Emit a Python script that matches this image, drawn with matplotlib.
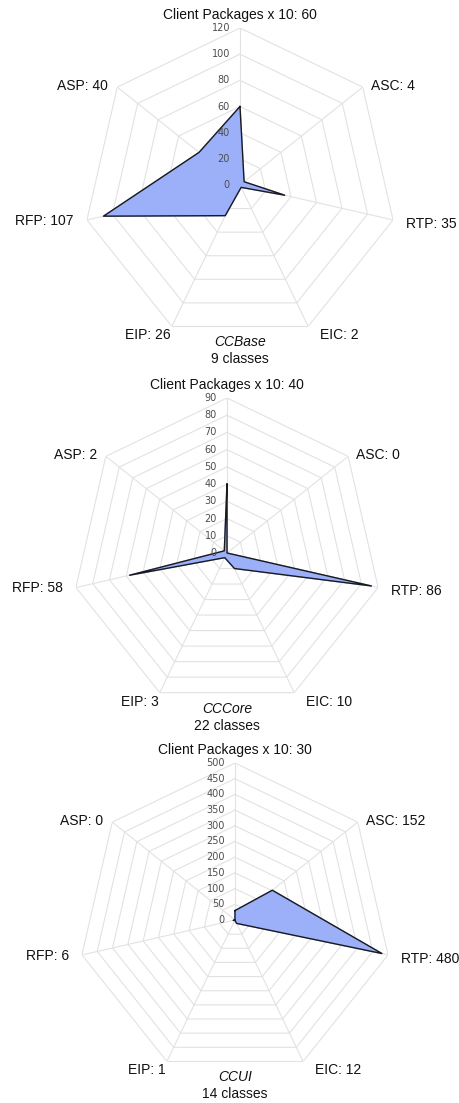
#!/usr/bin/env python3
"""Three stacked radar charts of class metrics (CCBase, CCCore, CCUI)."""
import numpy as np
import matplotlib
matplotlib.use("Agg")
import matplotlib.pyplot as plt

AXES = ["Client Packages x 10", "ASC", "RTP", "EIC", "EIP", "RFP", "ASP"]
NAMES = ["CCBase", "CCCore", "CCUI"]
CLASSES = [9, 22, 14]
CCBASE = [60, 4, 35, 2, 26, 107, 40]
CCCORE = [40, 0, 86, 10, 3, 58, 2]
CCUI = [30, 152, 480, 12, 1, 6, 0]
RMAX = [120, 90, 500]
RSTEP = [20, 10, 50]

W, H = 460, 1103
CENTERS = [(240, 185), (227, 553), (235, 920)]
RADII = [157, 155, 157]

FILL = "#9bb0f9"
GRID = "#e2e2e2"
LABEL_FONT = ["Liberation Sans", "DejaVu Sans"]

# (dx, dy) in pixels, ha, va for each spoke label
LABEL_POS = [
    ((0, 6), "center", "bottom"),
    ((8, 1), "left", "center"),
    ((13, -4), "left", "center"),
    ((12, -2), "left", "top"),
    ((-1, -2), "right", "top"),
    ((-13, -1), "right", "center"),
    ((-9, 1), "right", "center"),
]


def px2pt(v):
    return v * 0.72


def radar(fig, center, radius, values, rmax, step, name, nclass):
    cx, cy = center
    ax = fig.add_axes([(cx - radius) / W, 1 - (cy + radius) / H,
                       2 * radius / W, 2 * radius / H], projection="polar")
    ax.set_theta_zero_location("N")
    ax.set_theta_direction(-1)
    ax.set_ylim(0, rmax)
    ax.grid(False)
    ax.set_xticks([])
    ax.set_yticks([])
    ax.spines["polar"].set_visible(False)
    ax.patch.set_visible(False)

    n = len(AXES)
    theta = np.arange(n) * 2 * np.pi / n
    closed = np.append(theta, theta[0])

    ticks = np.arange(0, rmax + step, step)
    for r in ticks[1:]:
        ax.plot(closed, [r] * (n + 1), color=GRID, lw=0.8, zorder=1)
    for t in theta:
        ax.plot([t, t], [0, rmax], color=GRID, lw=0.8, zorder=1)

    vals = np.append(values, values[0])
    ax.fill(closed, vals, color=FILL, zorder=2)
    ax.plot(closed, vals, color="#1a1a1a", lw=1.0, zorder=3)

    for r in ticks:
        ax.annotate(str(int(r)), xy=(0, r), xytext=(px2pt(-10), 0),
                    textcoords="offset points", ha="right", va="center",
                    fontsize=7.0, color="#4d4d4d", family="DejaVu Sans",
                    zorder=4)

    for t, lab, v, ((dx, dy), ha, va) in zip(theta, AXES, values, LABEL_POS):
        ax.annotate(f"{lab}: {v}", xy=(t, rmax),
                    xytext=(px2pt(dx), px2pt(dy)), textcoords="offset points",
                    ha=ha, va=va, fontsize=10, color="#111111",
                    family=LABEL_FONT, annotation_clip=False)

    bottom = cy + radius * np.cos(np.pi / n)
    fig.text(cx / W, 1 - (bottom + 16) / H, name, ha="center", va="center",
             fontsize=10, style="italic", family=LABEL_FONT, color="#111111")
    fig.text(cx / W, 1 - (bottom + 33) / H, f"{nclass} classes", ha="center",
             va="center", fontsize=10, family=LABEL_FONT, color="#111111")


def main():
    fig = plt.figure(figsize=(W / 100, H / 100), dpi=100)
    fig.patch.set_facecolor("white")
    data = [CCBASE, CCCORE, CCUI]
    for i in range(3):
        radar(fig, CENTERS[i], RADII[i], data[i], RMAX[i], RSTEP[i],
              NAMES[i], CLASSES[i])
    fig.savefig("out.png", dpi=100)


if __name__ == "__main__":
    main()
